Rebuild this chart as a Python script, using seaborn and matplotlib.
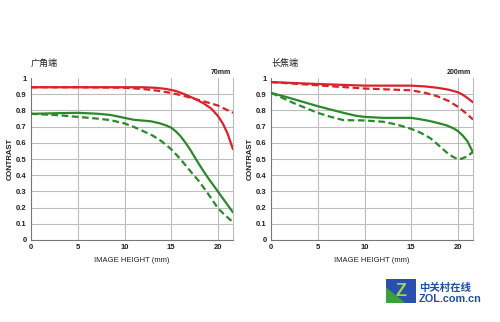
import matplotlib
matplotlib.use("Agg")
import matplotlib.pyplot as plt
import seaborn as sns
import pandas as pd
from matplotlib.patches import Polygon

# MTF data, wide end (70mm)
wide_red_solid_x = [0, 6, 12, 13.5, 14.5, 15.5, 16.5, 17.5, 18.5, 19.3, 20, 20.5, 21, 21.3, 21.6]
wide_red_solid_y = [0.943, 0.943, 0.943, 0.939, 0.932, 0.920, 0.898, 0.872, 0.842, 0.810, 0.765, 0.720, 0.660, 0.610, 0.560]
wide_red_dash_x = [0, 5, 10, 12, 13.5, 15, 16.2, 17.4, 18.7, 20, 21.6]
wide_red_dash_y = [0.943, 0.943, 0.940, 0.932, 0.922, 0.908, 0.892, 0.873, 0.852, 0.830, 0.785]
wide_green_solid_x = [0, 3, 5, 7, 8.5, 10, 11, 12, 12.8, 13.8, 14.5, 15, 15.5, 16, 16.5, 17, 17.5, 18, 18.5, 19, 19.5, 20, 20.5, 21, 21.6]
wide_green_solid_y = [0.779, 0.783, 0.785, 0.780, 0.772, 0.754, 0.742, 0.737, 0.733, 0.720, 0.706, 0.693, 0.670, 0.640, 0.602, 0.560, 0.512, 0.465, 0.420, 0.378, 0.338, 0.298, 0.258, 0.218, 0.170]
wide_green_dash_x = [0, 3, 5, 7, 8.5, 10, 11, 12, 13, 14, 15, 16, 17, 18, 19, 20, 20.8, 21.6]
wide_green_dash_y = [0.779, 0.770, 0.760, 0.750, 0.740, 0.720, 0.698, 0.672, 0.645, 0.608, 0.560, 0.498, 0.428, 0.360, 0.280, 0.195, 0.150, 0.110]

# MTF data, tele end (200mm)
tele_red_solid_x = [0, 5, 10, 15, 16.5, 17.75, 19, 20, 20.5, 21, 21.6]
tele_red_solid_y = [0.975, 0.963, 0.953, 0.953, 0.948, 0.940, 0.928, 0.912, 0.897, 0.877, 0.850]
tele_red_dash_x = [0, 5, 10, 15, 16.5, 17.75, 19, 20, 20.8, 21.6]
tele_red_dash_y = [0.975, 0.955, 0.935, 0.924, 0.908, 0.888, 0.858, 0.822, 0.785, 0.744]
tele_green_solid_x = [0, 1.2, 2.4, 3.7, 5, 6.4, 7.75, 9, 10, 12, 15, 16, 17, 18, 18.8, 19.5, 20, 20.5, 21, 21.3, 21.6]
tele_green_solid_y = [0.908, 0.890, 0.870, 0.848, 0.826, 0.805, 0.785, 0.768, 0.760, 0.754, 0.754, 0.745, 0.734, 0.720, 0.707, 0.690, 0.672, 0.645, 0.610, 0.575, 0.540]
tele_green_dash_x = [0, 1.2, 2.4, 3.7, 5, 6.4, 7.75, 10, 12, 13.5, 15, 16, 17, 17.7, 18.4, 19, 19.5, 20, 20.4, 20.8, 21.2, 21.6]
tele_green_dash_y = [0.908, 0.878, 0.846, 0.815, 0.785, 0.760, 0.740, 0.738, 0.730, 0.712, 0.686, 0.662, 0.630, 0.596, 0.560, 0.530, 0.512, 0.500, 0.502, 0.512, 0.527, 0.543]

x_ticks = [0, 5, 10, 15, 20]
y_ticks = [0, 0.1, 0.2, 0.3, 0.4, 0.5, 0.6, 0.7, 0.8, 0.9, 1]
y_tick_labels = ["0", "0.1", "0.2", "0.3", "0.4", "0.5", "0.6", "0.7", "0.8", "0.9", "1"]

panel_titles = ["广角端", "长焦端"]
focal_labels = ["70mm", "200mm"]

RED = "#d8232a"
GREEN = "#2a8a2a"


def frame(parts):
    rows = []
    for name, xs, ys in parts:
        for x, y in zip(xs, ys):
            rows.append({"series": name, "x": x, "y": y})
    return pd.DataFrame(rows)


panels = [
    frame([("rs", wide_red_solid_x, wide_red_solid_y),
           ("rd", wide_red_dash_x, wide_red_dash_y),
           ("gs", wide_green_solid_x, wide_green_solid_y),
           ("gd", wide_green_dash_x, wide_green_dash_y)]),
    frame([("rs", tele_red_solid_x, tele_red_solid_y),
           ("rd", tele_red_dash_x, tele_red_dash_y),
           ("gs", tele_green_solid_x, tele_green_solid_y),
           ("gd", tele_green_dash_x, tele_green_dash_y)]),
]

sns.set_theme(style="white")
plt.rcParams["font.family"] = ["Liberation Sans", "Noto Sans CJK SC", "DejaVu Sans"]

fig = plt.figure(figsize=(5.0, 3.22), dpi=100)
fig.patch.set_facecolor("white")
positions = [[0.062, 0.2547, 0.404, 0.503], [0.542, 0.2547, 0.404, 0.503]]

palette = {"rs": RED, "rd": RED, "gs": GREEN, "gd": GREEN}
dashes = {"rs": "", "rd": (3.0, 1.6), "gs": "", "gd": (3.0, 1.6)}

for i, df in enumerate(panels):
    ax = fig.add_axes(positions[i])
    ax.set_xlim(0, 21.6)
    ax.set_ylim(0, 1)
    for v in x_ticks[1:]:
        ax.axvline(v, color="#bdbdbd", lw=0.8, zorder=0)
    for v in y_ticks[1:-1]:
        ax.axhline(v, color="#bdbdbd", lw=0.8, zorder=0)
    sns.lineplot(data=df, x="x", y="y", hue="series", style="series",
                 palette=palette, dashes=dashes, linewidth=1.6,
                 sort=False, legend=False, ax=ax, zorder=3)
    ax.set_xticks(x_ticks)
    ax.set_yticks(y_ticks)
    ax.set_yticklabels(y_tick_labels)
    ax.tick_params(axis="both", length=0, labelsize=5.5, pad=3, colors="#222222")
    for lab in ax.get_xticklabels() + ax.get_yticklabels():
        lab.set_fontweight("bold")
    ax.spines["top"].set_visible(False)
    ax.spines["right"].set_color("#bdbdbd")
    ax.spines["right"].set_linewidth(0.8)
    ax.spines["left"].set_color("#777777")
    ax.spines["bottom"].set_color("#777777")
    ax.spines["left"].set_linewidth(0.8)
    ax.spines["bottom"].set_linewidth(0.8)
    ax.set_xlabel("IMAGE HEIGHT (mm)", fontsize=5.5, labelpad=4, color="#222222")
    ax.set_ylabel("CONTRAST", fontsize=5.5, labelpad=2, color="#222222", fontweight="bold")
    ax.text(0.0, 1.06, panel_titles[i], transform=ax.transAxes, fontsize=6.5,
            ha="left", va="bottom", color="#222222", family=["Noto Sans CJK SC"])
    ax.text(0.99, 1.015, focal_labels[i], transform=ax.transAxes, fontsize=5,
            ha="right", va="bottom", color="#222222", fontweight="bold")

# site logo in the lower right corner
logo = fig.add_axes([0.772, 0.06, 0.06, 0.075])
logo.set_xlim(0, 1)
logo.set_ylim(0, 1)
logo.axis("off")
logo.add_patch(Polygon([[0.0, 0.0], [1.0, 0.0], [1.0, 1.0], [0.0, 1.0]],
                       closed=True, color="#2a4fb0"))
logo.add_patch(Polygon([[0.0, 0.0], [0.6, 0.0], [0.0, 0.6]], closed=True, color="#3aa23a"))
logo.text(0.5, 0.48, "Z", fontsize=13, fontweight="bold", color="#9fd84a",
          ha="center", va="center")
fig.text(0.838, 0.105, "中关村在线", fontsize=7.5, fontweight="bold", color="#1d4fa8",
         family=["Noto Sans CJK SC"], va="center")
fig.text(0.838, 0.07, "ZOL.com.cn", fontsize=7.8, fontweight="bold", color="#1d4fa8",
         va="center")

fig.savefig("out.png", dpi=100, facecolor="white")
